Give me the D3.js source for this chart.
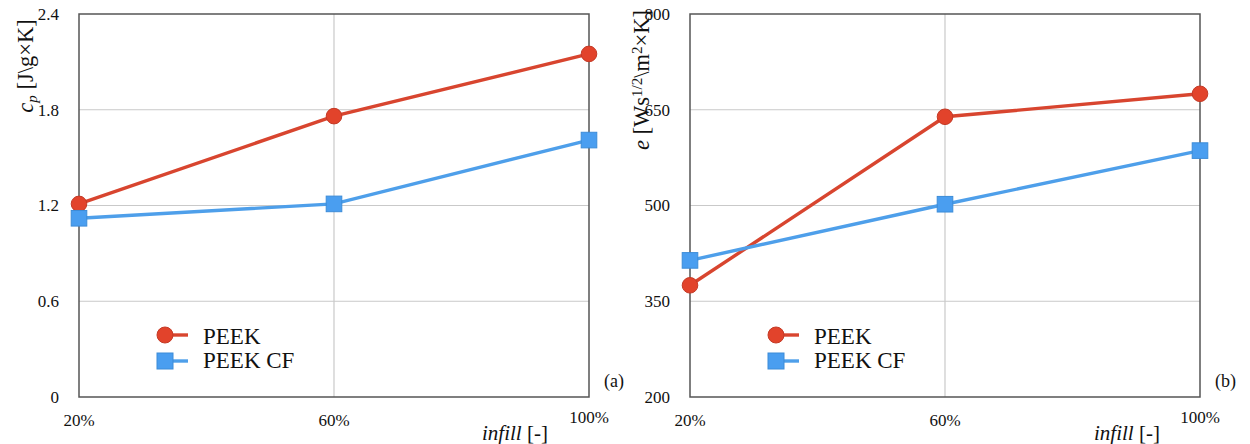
<!DOCTYPE html>
<html>
<head>
<meta charset="utf-8">
<script src="https://cdn.jsdelivr.net/npm/d3@7"></script>
<style>
  html, body { margin: 0; padding: 0; background: #fff; }
  svg { display: block; }
</style>
</head>
<body>
<svg id="chart" width="1250" height="444"></svg>
<script>
// ---- data ----
const infill = [20, 60, 100];
const infillLabels = ["20%", "60%", "100%"];
const seriesNames = ["PEEK", "PEEK CF"];

const cpPEEK   = [1.21, 1.76, 2.15];
const cpPEEKCF = [1.12, 1.21, 1.61];
const cpTicks  = [0, 0.6, 1.2, 1.8, 2.4];

const ePEEK    = [375, 639, 675];
const ePEEKCF  = [414, 502, 586];
const eTicks   = [200, 350, 500, 650, 800];

const panelLabels = ["(a)", "(b)"];

// ---- styles ----
const FONT = "Liberation Serif, DejaVu Serif, serif";
const RED = "#E2432B", RED_DARK = "#C43A26", RED_LINE = "#D8452F";
const BLUE = "#4A9EF0", BLUE_DARK = "#3C8CD8", BLUE_LINE = "#4E9FEA";

const svg = d3.select("#chart").attr("font-family", FONT);

function txt(sel) {
  return sel.append("text").attr("font-family", FONT).attr("fill", "#111");
}

function drawPanel(opt) {
  const x = d3.scaleLinear().domain([20, 100]).range([opt.left, opt.right]);
  const y = d3.scaleLinear().domain(opt.domain).range([397, 14]);
  const g = svg.append("g");

  // horizontal gridlines
  g.selectAll(".hg").data(opt.ticks.slice(1, -1)).enter().append("line")
    .attr("x1", opt.left).attr("x2", opt.right)
    .attr("y1", d => y(d)).attr("y2", d => y(d))
    .attr("stroke", "#c9c9c9").attr("stroke-width", 1.2);
  // vertical gridline at middle category
  g.selectAll(".vg").data(infill.slice(1, -1)).enter().append("line")
    .attr("x1", d => x(d)).attr("x2", d => x(d))
    .attr("y1", 14).attr("y2", 397)
    .attr("stroke", "#c9c9c9").attr("stroke-width", 1.2);

  // frame
  g.append("rect").attr("x", opt.left).attr("y", 14)
    .attr("width", opt.right - opt.left).attr("height", 383)
    .attr("fill", "none").attr("stroke", "#555").attr("stroke-width", 1.5);

  // y ticks
  const yAxis = d3.axisLeft(y).tickValues(opt.ticks).tickSize(0).tickPadding(20)
    .tickFormat(opt.fmt);
  const ya = g.append("g").attr("transform", `translate(${opt.left},0)`).call(yAxis)
    .attr("font-family", FONT).attr("font-size", 17);
  ya.select(".domain").remove();
  ya.selectAll("text").attr("font-size", 17).attr("fill", "#111")
    .attr("font-family", FONT);

  // x tick labels
  g.selectAll(".xl").data(infill).enter().append("text")
    .attr("font-family", FONT).attr("fill", "#111")
    .attr("x", d => x(d))
    .attr("y", (d, i) => i === 2 ? 423 : 426)
    .attr("text-anchor", "middle").attr("font-size", 17)
    .text((d, i) => infillLabels[i]);

  // x title
  const xt = txt(g).attr("x", opt.xTitleX).attr("y", 440)
    .attr("text-anchor", "middle").attr("font-size", 21);
  xt.append("tspan").attr("font-style", "italic").text("infill");
  xt.append("tspan").text(" [-]");

  // panel label
  txt(g).attr("x", opt.right + 15).attr("y", 387)
    .attr("font-size", 18).text(opt.panel);

  // y title
  const yt = txt(g)
    .attr("transform", `translate(${opt.yTitleX},${opt.yTitleY}) rotate(-90)`)
    .attr("text-anchor", "middle").attr("font-size", 22.5);
  opt.yTitle(yt);

  // series
  const line = d3.line().x((d, i) => x(infill[i])).y(d => y(d));
  g.append("path").datum(opt.s1).attr("d", line)
    .attr("fill", "none").attr("stroke", RED_LINE).attr("stroke-width", 3.4);
  g.append("path").datum(opt.s2).attr("d", line)
    .attr("fill", "none").attr("stroke", BLUE_LINE).attr("stroke-width", 3.4);

  g.selectAll(".c").data(opt.s1).enter().append("circle")
    .attr("cx", (d, i) => x(infill[i])).attr("cy", d => y(d)).attr("r", 7.8)
    .attr("fill", RED).attr("stroke", RED_DARK).attr("stroke-width", 1);
  g.selectAll(".s").data(opt.s2).enter().append("rect")
    .attr("x", (d, i) => x(infill[i]) - 7.8).attr("y", d => y(d) - 7.8)
    .attr("width", 15.6).attr("height", 15.6)
    .attr("fill", BLUE).attr("stroke", BLUE_DARK).attr("stroke-width", 1);

  // legend
  const lx = opt.left + 86;
  const leg = g.append("g");
  leg.append("line").attr("x1", lx).attr("x2", lx + 23).attr("y1", 335).attr("y2", 335)
    .attr("stroke", RED_LINE).attr("stroke-width", 3.4);
  leg.append("circle").attr("cx", lx).attr("cy", 335).attr("r", 8)
    .attr("fill", RED).attr("stroke", RED_DARK).attr("stroke-width", 1);
  txt(leg).attr("x", lx + 38).attr("y", 344).attr("font-size", 23).text(seriesNames[0]);
  leg.append("line").attr("x1", lx).attr("x2", lx + 23).attr("y1", 361).attr("y2", 361)
    .attr("stroke", BLUE_LINE).attr("stroke-width", 3.4);
  leg.append("rect").attr("x", lx - 8).attr("y", 353).attr("width", 16).attr("height", 16)
    .attr("fill", BLUE).attr("stroke", BLUE_DARK).attr("stroke-width", 1);
  txt(leg).attr("x", lx + 38).attr("y", 368).attr("font-size", 23).text(seriesNames[1]);
}

drawPanel({
  left: 79, right: 589, domain: [0, 2.4], ticks: cpTicks,
  fmt: d => d === 0 ? "0" : d3.format(".1f")(d),
  s1: cpPEEK, s2: cpPEEKCF, panel: panelLabels[0], xTitleX: 515,
  yTitleX: 33, yTitleY: 66,
  yTitle: t => {
    t.append("tspan").attr("font-style", "italic").text("c");
    t.append("tspan").attr("font-style", "italic").attr("font-size", 15).attr("dy", 4).text("p");
    t.append("tspan").attr("dy", -4).text(" [J\\g×K]");
  }
});

drawPanel({
  left: 690, right: 1200, domain: [200, 800], ticks: eTicks,
  fmt: d => String(d),
  s1: ePEEK, s2: ePEEKCF, panel: panelLabels[1], xTitleX: 1127,
  yTitleX: 649, yTitleY: 80,
  yTitle: t => {
    t.append("tspan").attr("font-style", "italic").text("e");
    t.append("tspan").text(" [Ws");
    t.append("tspan").attr("font-size", 15).attr("dy", -7).text("1/2");
    t.append("tspan").attr("dy", 7).text("\\m");
    t.append("tspan").attr("font-size", 15).attr("dy", -7).text("2");
    t.append("tspan").attr("dy", 7).text("×K]");
  }
});
</script>
</body>
</html>
